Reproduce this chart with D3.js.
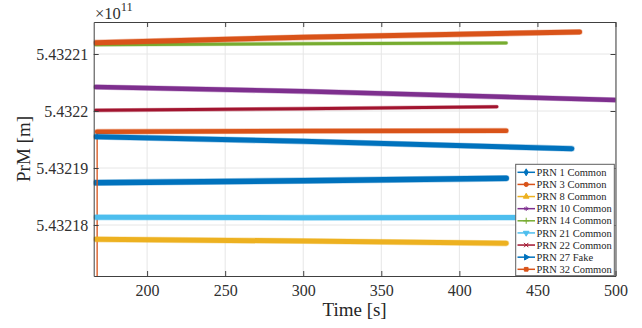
<!DOCTYPE html>
<html lang="en">
<head>
<meta charset="UTF-8">
<title>PrM vs Time</title>
<script src="https://cdn.jsdelivr.net/npm/d3@7"></script>
<style>
  body { margin: 0; background: #fff; }
  svg text { font-family: "Liberation Serif", "DejaVu Serif", serif !important; }
</style>
</head>
<body>
<script>
// data (PrM in units of 1e11 m)
var names = ["PRN 1 Common", "PRN 3 Common", "PRN 8 Common", "PRN 10 Common", "PRN 14 Common",
             "PRN 21 Common", "PRN 22 Common", "PRN 27 Fake", "PRN 32 Common"];

var t1  = [167, 300, 430],        v1  = [5.43218742, 5.43218777, 5.43218819];
var t3  = [168, 168, 300, 430],   v3  = [5.43215, 5.43219637, 5.43219649, 5.43219654];
var t8  = [167, 300, 430],        v8  = [5.43217749, 5.43217719, 5.43217679];
var t10 = [167, 300, 500],        v10 = [5.43220421, 5.43220346, 5.43220193];
var t14 = [167, 300, 430],        v14 = [5.43221163, 5.43221181, 5.43221193];
var t21 = [167, 300, 470],        v21 = [5.43218135, 5.43218128, 5.43218130];
var t22 = [167, 300, 424],        v22 = [5.43220012, 5.43220040, 5.43220075];
var t27 = [167, 300, 472],        v27 = [5.43219549, 5.43219468, 5.43219339];
var t32 = [167, 300, 477],        v32 = [5.43221198, 5.43221293, 5.43221386];

var xTicks = [200, 250, 300, 350, 400, 450, 500];
var yTicks = [5.43218, 5.43219, 5.4322, 5.43221];
var yTickLabels = ["5.43218", "5.43219", "5.4322", "5.43221"];

var times  = [t1, t3, t8, t10, t14, t21, t22, t27, t32];
var values = [v1, v3, v8, v10, v14, v21, v22, v27, v32];

// styles
var colors  = ["#0072BD", "#D95319", "#EDB120", "#7E2F8E", "#77AC30", "#4DBEEE", "#A2142F", "#0072BD", "#D95319"];
var widths  = [5.5, 4.5, 5, 4.5, 3, 5, 3, 5, 5];
var symbols = ["diamond", "circle", "up", "star", "plus", "down", "x", "right", "square"];
var serif = "'Liberation Serif', 'DejaVu Serif', serif";

var width = 642, height = 328;
var pad = {left: 93.7, right: 615.5, top: 22, bottom: 276};

var svg = d3.select("body").append("svg").attr("width", width).attr("height", height);

var x = d3.scaleLinear().domain([165.8, 500]).range([pad.left, pad.right]);
var y = d3.scaleLinear().domain([5.432171053, 5.432215614]).range([pad.bottom, pad.top]);

// grid
var grid = svg.append("g");
grid.selectAll(".gx").data(xTicks).enter().append("line")
    .attr("x1", function(d){ return x(d); }).attr("x2", function(d){ return x(d); })
    .attr("y1", pad.top).attr("y2", pad.bottom)
    .attr("stroke", "#e6e6e6").attr("stroke-width", 1);
grid.selectAll(".gy").data(yTicks).enter().append("line")
    .attr("y1", function(d){ return y(d); }).attr("y2", function(d){ return y(d); })
    .attr("x1", pad.left).attr("x2", pad.right)
    .attr("stroke", "#e6e6e6").attr("stroke-width", 1);

// series
svg.append("clipPath").attr("id", "clip").append("rect")
    .attr("x", pad.left).attr("y", pad.top)
    .attr("width", pad.right - pad.left).attr("height", pad.bottom - pad.top);

var plot = svg.append("g").attr("clip-path", "url(#clip)");
var lineGen = d3.line().x(function(d){ return x(d[0]); }).y(function(d){ return y(d[1]); });
var yd = y.domain();

function symbolPath(kind, size) {
    var map = {diamond: d3.symbolDiamond, circle: d3.symbolCircle, up: d3.symbolTriangle,
               down: d3.symbolTriangle, right: d3.symbolTriangle, star: d3.symbolAsterisk,
               plus: d3.symbolPlus || d3.symbolCross, x: d3.symbolX || d3.symbolCross, square: d3.symbolSquare};
    return d3.symbol().type(map[kind]).size(size)();
}
function symbolRot(kind) {
    return kind === "down" ? 180 : kind === "right" ? 90 : 0;
}

times.forEach(function(ts, i) {
    var pts = ts.map(function(t, j){ return [t, values[i][j]]; });
    var inside = pts.filter(function(p){ return p[1] >= yd[0] && p[1] <= yd[1]; });
    plot.append("path").datum(pts)
        .attr("d", lineGen).attr("fill", "none")
        .attr("stroke", colors[i]).attr("stroke-width", 1.3);
    // dense markers make a thick band; a faint halo for the marker edges
    plot.append("path").datum(inside)
        .attr("d", lineGen).attr("fill", "none")
        .attr("stroke", colors[i]).attr("stroke-opacity", 0.35).attr("stroke-width", widths[i] + 1.2)
        .attr("stroke-linecap", "round");
    plot.append("path").datum(inside)
        .attr("d", lineGen).attr("fill", "none")
        .attr("stroke", colors[i]).attr("stroke-width", widths[i])
        .attr("stroke-linecap", "round").attr("stroke-linejoin", "round");
});

// axes
var axisColor = "#404040";
function styleAxis(g) {
    g.attr("font-family", serif).attr("font-size", 16);
    g.select(".domain").attr("stroke", axisColor).attr("stroke-width", 1);
    g.selectAll(".tick line").attr("stroke", axisColor).attr("stroke-width", 1);
    g.selectAll(".tick text").attr("fill", "#303030")
        .style("font-family", serif).style("font-size", "16px");
}

svg.append("g").attr("transform", "translate(0," + pad.bottom + ")")
    .call(d3.axisBottom(x).tickValues(xTicks).tickSizeInner(-5).tickSizeOuter(0).tickPadding(9))
    .call(styleAxis);
svg.append("g").attr("transform", "translate(0," + pad.top + ")")
    .call(d3.axisTop(x).tickValues(xTicks).tickFormat("").tickSizeInner(-5).tickSizeOuter(0))
    .call(styleAxis);
svg.append("g").attr("transform", "translate(" + pad.left + ",0)")
    .call(d3.axisLeft(y).tickValues(yTicks)
        .tickFormat(function(d, i){ return yTickLabels[i]; })
        .tickSizeInner(-5).tickSizeOuter(0).tickPadding(5.5))
    .call(styleAxis);
svg.append("g").attr("transform", "translate(" + pad.right + ",0)")
    .call(d3.axisRight(y).tickValues(yTicks).tickFormat("").tickSizeInner(-5).tickSizeOuter(0))
    .call(styleAxis);

// exponent
var ex = svg.append("text").attr("x", 95).attr("y", 18.5).attr("fill", "#303030")
    .style("font-family", serif).style("font-size", "16.5px");
ex.append("tspan").text("\u00d710");
ex.append("tspan").attr("dy", -7.5).style("font-size", "12.5px").text("11");

// axis titles
svg.append("text").attr("x", (pad.left + pad.right) / 2).attr("y", 316)
    .attr("text-anchor", "middle").attr("fill", "#262626")
    .style("font-family", serif).style("font-size", "19px")
    .text("Time [s]");
svg.append("text")
    .attr("transform", "translate(30," + ((pad.top + pad.bottom) / 2) + ") rotate(-90)")
    .attr("text-anchor", "middle").attr("fill", "#262626")
    .style("font-family", serif).style("font-size", "19px")
    .text("PrM [m]");

// legend
var lg = svg.append("g");
lg.append("rect").attr("x", 515.7).attr("y", 164.3).attr("width", 98.6).attr("height", 111.4)
    .attr("fill", "#fff").attr("stroke", "#5e5e5e").attr("stroke-width", 1);
var rowY = d3.scaleLinear().domain([0, names.length - 1]).range([172.3, 269.3]);
names.forEach(function(n, i) {
    var yy = rowY(i);
    lg.append("line").attr("x1", 517.5).attr("x2", 535).attr("y1", yy).attr("y2", yy)
        .attr("stroke", colors[i]).attr("stroke-width", 1.5);
    lg.append("path").attr("d", symbolPath(symbols[i], 14))
        .attr("transform", "translate(526.2," + yy + ") rotate(" + symbolRot(symbols[i]) + ")")
        .attr("fill", colors[i]).attr("stroke", colors[i]).attr("stroke-width", 1);
    lg.append("text").attr("x", 536.5).attr("y", yy).attr("dy", "0.35em")
        .attr("fill", "#262626").style("font-family", serif).style("font-size", "10.5px").text(n);
});
</script>
</body>
</html>
